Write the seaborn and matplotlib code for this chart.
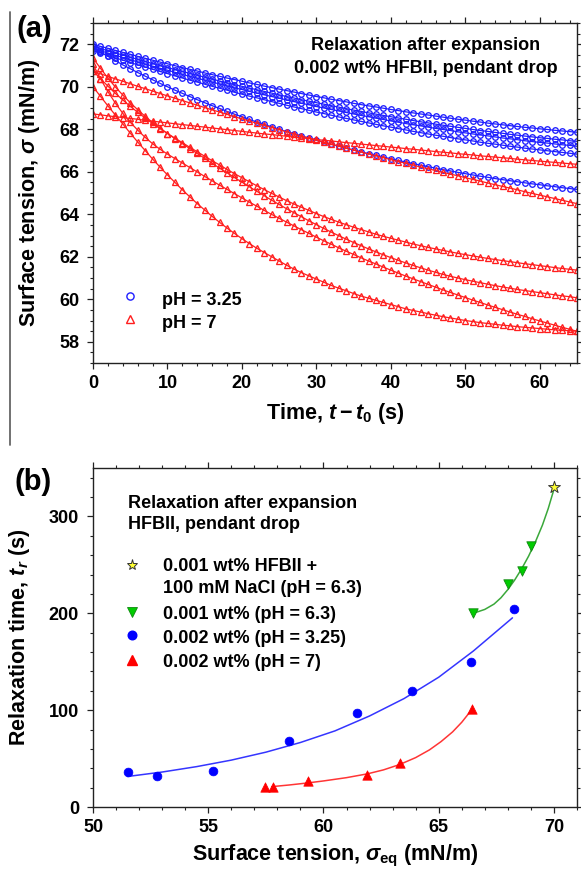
import numpy as np
import matplotlib
matplotlib.use("Agg")
import matplotlib.pyplot as plt
import seaborn as sns
from matplotlib.ticker import MultipleLocator
from matplotlib.lines import Line2D

# ---------------- data: panel (a), surface tension vs time (1 s sampling) ----------------
time_s = np.arange(0, 66)

ph325_run1 = [72.00, 71.90, 71.81, 71.71, 71.62, 71.53, 71.43, 71.34, 71.25, 71.16, 71.08, 70.99, 70.90, 70.82, 70.74, 70.65,
              70.57, 70.49, 70.41, 70.34, 70.26, 70.18, 70.11, 70.03, 69.96, 69.89, 69.82, 69.75, 69.68, 69.61, 69.54, 69.48,
              69.41, 69.35, 69.29, 69.22, 69.16, 69.10, 69.05, 68.99, 68.93, 68.88, 68.82, 68.77, 68.72, 68.67, 68.62, 68.57,
              68.52, 68.47, 68.43, 68.38, 68.34, 68.29, 68.25, 68.21, 68.17, 68.13, 68.09, 68.06, 68.02, 67.99, 67.95, 67.92,
              67.89, 67.86]
ph325_run2 = [71.90, 71.80, 71.69, 71.59, 71.49, 71.39, 71.29, 71.19, 71.09, 71.00, 70.90, 70.81, 70.72, 70.63, 70.54, 70.45,
              70.36, 70.27, 70.19, 70.10, 70.02, 69.94, 69.86, 69.78, 69.70, 69.62, 69.54, 69.47, 69.39, 69.32, 69.25, 69.18,
              69.11, 69.04, 68.97, 68.90, 68.84, 68.77, 68.71, 68.65, 68.59, 68.53, 68.47, 68.41, 68.35, 68.30, 68.24, 68.19,
              68.14, 68.09, 68.04, 67.99, 67.94, 67.90, 67.85, 67.81, 67.76, 67.72, 67.68, 67.64, 67.60, 67.57, 67.53, 67.50,
              67.46, 67.43]
ph325_run3 = [71.80, 71.69, 71.59, 71.48, 71.38, 71.27, 71.17, 71.07, 70.97, 70.87, 70.78, 70.68, 70.58, 70.49, 70.40, 70.31,
              70.22, 70.13, 70.04, 69.95, 69.87, 69.78, 69.70, 69.62, 69.54, 69.46, 69.38, 69.30, 69.22, 69.15, 69.07, 69.00,
              68.93, 68.86, 68.79, 68.72, 68.65, 68.59, 68.52, 68.46, 68.39, 68.33, 68.27, 68.21, 68.16, 68.10, 68.04, 67.99,
              67.94, 67.88, 67.83, 67.78, 67.73, 67.69, 67.64, 67.59, 67.55, 67.51, 67.46, 67.42, 67.38, 67.35, 67.31, 67.27,
              67.24, 67.20]
ph325_run4 = [71.70, 71.59, 71.47, 71.36, 71.25, 71.14, 71.03, 70.93, 70.82, 70.72, 70.62, 70.51, 70.41, 70.31, 70.22, 70.12,
              70.02, 69.93, 69.84, 69.74, 69.65, 69.56, 69.48, 69.39, 69.30, 69.22, 69.13, 69.05, 68.97, 68.89, 68.81, 68.74,
              68.66, 68.58, 68.51, 68.44, 68.37, 68.30, 68.23, 68.16, 68.10, 68.03, 67.97, 67.90, 67.84, 67.78, 67.72, 67.67,
              67.61, 67.55, 67.50, 67.45, 67.39, 67.34, 67.30, 67.25, 67.20, 67.16, 67.11, 67.07, 67.03, 66.99, 66.95, 66.91,
              66.87, 66.83]
ph325_run5 = [71.85, 71.63, 71.43, 71.23, 71.03, 70.85, 70.67, 70.50, 70.33, 70.16, 70.00, 69.84, 69.69, 69.54, 69.39, 69.25,
              69.11, 68.98, 68.84, 68.71, 68.59, 68.46, 68.34, 68.23, 68.11, 68.00, 67.89, 67.79, 67.68, 67.58, 67.48, 67.38,
              67.29, 67.20, 67.11, 67.02, 66.93, 66.85, 66.77, 66.69, 66.61, 66.53, 66.46, 66.38, 66.31, 66.24, 66.17, 66.10,
              66.04, 65.97, 65.91, 65.85, 65.79, 65.74, 65.68, 65.63, 65.58, 65.53, 65.48, 65.43, 65.39, 65.34, 65.30, 65.25,
              65.21, 65.17]

ph7_run1 = [68.72, 68.68, 68.63, 68.59, 68.55, 68.51, 68.47, 68.42, 68.38, 68.34, 68.30, 68.26, 68.22, 68.18, 68.14, 68.10,
            68.06, 68.02, 67.98, 67.94, 67.90, 67.86, 67.82, 67.78, 67.75, 67.71, 67.67, 67.63, 67.59, 67.56, 67.52, 67.48,
            67.45, 67.41, 67.37, 67.34, 67.30, 67.27, 67.23, 67.20, 67.16, 67.13, 67.09, 67.06, 67.02, 66.99, 66.95, 66.92,
            66.89, 66.85, 66.82, 66.79, 66.75, 66.72, 66.69, 66.66, 66.63, 66.59, 66.56, 66.53, 66.50, 66.47, 66.44, 66.41,
            66.38, 66.35]
ph7_run2 = [70.73, 70.61, 70.49, 70.37, 70.26, 70.14, 70.02, 69.91, 69.80, 69.68, 69.57, 69.46, 69.35, 69.24, 69.13, 69.02,
            68.91, 68.81, 68.70, 68.59, 68.49, 68.39, 68.28, 68.18, 68.08, 67.98, 67.88, 67.78, 67.68, 67.59, 67.49, 67.39,
            67.30, 67.21, 67.11, 67.02, 66.93, 66.84, 66.75, 66.66, 66.57, 66.48, 66.40, 66.31, 66.22, 66.14, 66.06, 65.97,
            65.89, 65.81, 65.72, 65.64, 65.56, 65.47, 65.39, 65.31, 65.23, 65.15, 65.06, 64.98, 64.90, 64.82, 64.74, 64.66,
            64.58, 64.50]
ph7_run3 = [70.75, 70.38, 70.03, 69.69, 69.38, 69.08, 68.80, 68.53, 68.27, 68.03, 67.80, 67.58, 67.37, 67.15, 66.94, 66.73,
            66.52, 66.32, 66.11, 65.91, 65.72, 65.53, 65.34, 65.16, 64.98, 64.81, 64.64, 64.48, 64.33, 64.18, 64.03, 63.89,
            63.76, 63.63, 63.51, 63.39, 63.28, 63.17, 63.06, 62.96, 62.87, 62.78, 62.69, 62.60, 62.52, 62.44, 62.37, 62.30,
            62.23, 62.16, 62.10, 62.04, 61.98, 61.92, 61.87, 61.82, 61.77, 61.72, 61.67, 61.63, 61.58, 61.54, 61.49, 61.45,
            61.41, 61.37]
ph7_run4 = [71.35, 70.87, 70.41, 69.99, 69.61, 69.25, 68.92, 68.61, 68.32, 68.05, 67.80, 67.56, 67.32, 67.09, 66.86, 66.63,
            66.40, 66.17, 65.95, 65.73, 65.51, 65.29, 65.08, 64.87, 64.66, 64.46, 64.26, 64.07, 63.88, 63.69, 63.51, 63.33,
            63.16, 62.99, 62.83, 62.67, 62.52, 62.37, 62.23, 62.09, 61.96, 61.83, 61.71, 61.59, 61.48, 61.37, 61.27, 61.17,
            61.08, 61.00, 60.92, 60.85, 60.78, 60.71, 60.64, 60.58, 60.52, 60.46, 60.41, 60.36, 60.31, 60.26, 60.21, 60.16,
            60.12, 60.07]
ph7_run5 = [71.05, 70.38, 69.77, 69.23, 68.75, 68.33, 67.96, 67.62, 67.32, 67.06, 66.83, 66.62, 66.41, 66.20, 65.99, 65.78,
            65.57, 65.37, 65.17, 64.97, 64.77, 64.57, 64.38, 64.18, 63.99, 63.81, 63.63, 63.45, 63.27, 63.10, 62.92, 62.75,
            62.59, 62.42, 62.26, 62.11, 61.95, 61.80, 61.66, 61.51, 61.37, 61.23, 61.09, 60.96, 60.83, 60.70, 60.57, 60.44,
            60.32, 60.20, 60.08, 59.96, 59.85, 59.73, 59.62, 59.51, 59.40, 59.29, 59.19, 59.08, 58.98, 58.88, 58.78, 58.68,
            58.59, 58.49]
ph7_run6 = [70.00, 69.55, 69.10, 68.67, 68.25, 67.82, 67.40, 67.00, 66.60, 66.22, 65.85, 65.50, 65.15, 64.82, 64.50, 64.20,
            63.90, 63.62, 63.35, 63.10, 62.85, 62.62, 62.40, 62.20, 62.00, 61.80, 61.60, 61.42, 61.25, 61.10, 60.95, 60.80,
            60.65, 60.52, 60.40, 60.27, 60.15, 60.05, 59.95, 59.85, 59.75, 59.65, 59.55, 59.47, 59.40, 59.32, 59.25, 59.18,
            59.12, 59.06, 59.00, 58.95, 58.90, 58.86, 58.82, 58.78, 58.75, 58.71, 58.68, 58.65, 58.62, 58.59, 58.56, 58.54,
            58.52, 58.50]

ph325_runs = [ph325_run1, ph325_run2, ph325_run3, ph325_run4, ph325_run5]
ph7_runs = [ph7_run1, ph7_run2, ph7_run3, ph7_run4, ph7_run5, ph7_run6]

# ---------------- data: panel (b), relaxation time vs equilibrium tension ----------------
salt_sigma = [70.0]
salt_tr = [330]

c001_sigma = [66.5, 68.0, 68.6, 69.0]
c001_tr = [200, 230, 244, 269]

c002_ph325_sigma = [51.5, 52.76, 55.19, 58.52, 61.44, 63.85, 66.39, 68.26]
c002_ph325_tr = [36, 32, 37, 68, 97, 120, 150, 204]

c002_ph7_sigma = [57.45, 57.8, 59.35, 61.9, 63.3, 66.45]
c002_ph7_tr = [21, 21, 27, 33, 45, 101]

# fitted trend lines
fit_c001_sigma = [66.5, 67.0, 67.4, 67.7, 68.0, 68.3, 68.6, 68.9, 69.2, 69.5, 69.75, 70.0]
fit_c001_tr = [200, 204, 209.5, 216, 224.5, 234.5, 246, 259, 274, 291, 308, 328]

fit_ph325_sigma = [51.5, 53.0, 54.5, 56.0, 57.5, 59.0, 60.5, 62.0, 63.5, 65.0, 66.5, 68.2]
fit_ph325_tr = [31.5, 36.1, 41.7, 48.4, 56.6, 66.6, 78.6, 94.0, 112.0, 134.0, 161.0, 195.3]

fit_ph7_sigma = [57.75, 58.5, 59.3, 60.0, 61.0, 61.9, 62.6, 63.3, 64.0, 64.6, 65.1, 65.6, 66.0, 66.45]
fit_ph7_tr = [21.0, 22.7, 24.8, 26.9, 30.3, 34.2, 38.3, 43.8, 51.0, 59.0, 67.5, 77.5, 87.5, 101.0]

# ---------------- styling ----------------
sns.set_theme(style="ticks")
plt.rcParams.update({
    "font.family": ["Liberation Sans", "DejaVu Sans"],
    "font.weight": "bold",
    "axes.labelweight": "bold",
    "text.color": "black",
    "axes.labelcolor": "black",
    "mathtext.fontset": "custom",
    "mathtext.rm": "Liberation Sans:bold",
    "mathtext.it": "Liberation Sans:italic:bold",
    "mathtext.bf": "Liberation Sans:bold",
    "axes.edgecolor": "#222222",
    "xtick.color": "#222222",
    "ytick.color": "#222222",
    "xtick.labelcolor": "black",
    "ytick.labelcolor": "black",
})

BLUE_A = "#1e1eff"
RED_A = "#ff1e1e"

W, H = 581, 872
fig = plt.figure(figsize=(W / 100, H / 100), dpi=100)
ax_a = fig.add_axes([93 / W, 1 - 363 / H, 484 / W, 340 / H])
ax_b = fig.add_axes([93 / W, 1 - 807 / H, 484 / W, 339 / H])


def style_axes(ax):
    for sp in ax.spines.values():
        sp.set_visible(True)
        sp.set_linewidth(1.0)
        sp.set_color("#222222")
    ax.tick_params(which="both", direction="out", top=True, right=True,
                   labeltop=False, labelright=False, labelsize=13)
    ax.tick_params(which="major", length=4.5, width=0.9)
    ax.tick_params(which="minor", length=2.5, width=0.8)
    ax.tick_params(axis="x", which="both", pad=4)
    ax.tick_params(axis="y", which="both", pad=5.5)


# ---------------- panel (a) ----------------
for run in ph325_runs:
    sns.lineplot(x=time_s, y=run, ax=ax_a, color=BLUE_A, linewidth=0.9,
                 marker="o", markersize=4.0, markerfacecolor="none",
                 markeredgecolor=BLUE_A, markeredgewidth=0.95, legend=False)
for run in ph7_runs:
    sns.lineplot(x=time_s, y=run, ax=ax_a, color=RED_A, linewidth=0.9,
                 marker="^", markersize=4.2, markerfacecolor="none",
                 markeredgecolor=RED_A, markeredgewidth=0.95, legend=False)

ax_a.set_xlim(0, 65)
ax_a.set_ylim(57, 73)
ax_a.xaxis.set_major_locator(MultipleLocator(10))
ax_a.xaxis.set_minor_locator(MultipleLocator(2))
ax_a.yaxis.set_major_locator(MultipleLocator(2))
ax_a.yaxis.set_minor_locator(MultipleLocator(0.5))
style_axes(ax_a)
ax_a.set_xlabel(r"Time, $t-t_0$ (s)", fontsize=15.5)
ax_a.set_ylabel(r"Surface tension, $\sigma$ (mN/m)", fontsize=15.5)
ax_a.xaxis.set_label_coords(0.5, -0.112)
ax_a.yaxis.set_label_coords(-0.105, 0.5)

ax_a.text(0.688, 0.9206, "Relaxation after expansion", transform=ax_a.transAxes,
          ha="center", va="baseline", fontsize=13)
ax_a.text(0.688, 0.853, "0.002 wt% HFBII, pendant drop", transform=ax_a.transAxes,
          ha="center", va="baseline", fontsize=13)

# key for panel (a)
ax_a.plot([0.0764], [0.197], transform=ax_a.transAxes, marker="o", ls="none",
          markersize=5.2, mfc="none", mec=BLUE_A, mew=1.0)
ax_a.plot([0.0764], [0.129], transform=ax_a.transAxes, marker="^", ls="none",
          markersize=5.4, mfc="none", mec=RED_A, mew=1.0)
ax_a.text(0.1426, 0.1706, "pH = 3.25", transform=ax_a.transAxes, va="baseline", fontsize=13)
ax_a.text(0.1426, 0.103, "pH = 7", transform=ax_a.transAxes, va="baseline", fontsize=13)

# ---------------- panel (b) ----------------
sns.lineplot(x=fit_c001_sigma, y=fit_c001_tr, ax=ax_b, color="#3aa83a", linewidth=1.1, sort=False)
sns.lineplot(x=fit_ph325_sigma, y=fit_ph325_tr, ax=ax_b, color="#3535ff", linewidth=1.1, sort=False)
sns.lineplot(x=fit_ph7_sigma, y=fit_ph7_tr, ax=ax_b, color="#ff3535", linewidth=1.1, sort=False)

sns.scatterplot(x=c002_ph325_sigma, y=c002_ph325_tr, ax=ax_b, marker="o", s=40,
                color="#0000ff", edgecolor="#0000ff", linewidth=0.5, zorder=3)
sns.scatterplot(x=c002_ph7_sigma, y=c002_ph7_tr, ax=ax_b, marker="^", s=46,
                color="#ff0000", edgecolor="#ff0000", linewidth=0.5, zorder=3)
sns.scatterplot(x=c001_sigma, y=c001_tr, ax=ax_b, marker="v", s=46,
                color="#00cc00", edgecolor="#118811", linewidth=0.6, zorder=3)
sns.scatterplot(x=salt_sigma, y=salt_tr, ax=ax_b, marker="*", s=80,
                color="#ffff33", edgecolor="#333333", linewidth=0.7, zorder=3)

ax_b.set_xlim(50, 71)
ax_b.set_ylim(0, 350)
ax_b.xaxis.set_major_locator(MultipleLocator(5))
ax_b.xaxis.set_minor_locator(MultipleLocator(1))
ax_b.yaxis.set_major_locator(MultipleLocator(100))
ax_b.yaxis.set_minor_locator(MultipleLocator(20))
style_axes(ax_b)
ax_b.set_xlabel(r"Surface tension, $\sigma_\mathrm{eq}$ (mN/m)", fontsize=15.5)
ax_b.set_ylabel(r"Relaxation time, $t_r$ (s)", fontsize=15.5)
ax_b.xaxis.set_label_coords(0.5, -0.106)
ax_b.yaxis.set_label_coords(-0.127, 0.5)

ax_b.text(0.0729, 0.882, "Relaxation after expansion", transform=ax_b.transAxes,
          va="baseline", fontsize=13)
ax_b.text(0.0729, 0.819, "HFBII, pendant drop", transform=ax_b.transAxes,
          va="baseline", fontsize=13)

key_x, txt_x = 0.080, 0.1452
ax_b.plot([key_x], [0.7139], transform=ax_b.transAxes, marker="*", ls="none",
          markersize=8, mfc="#ffff33", mec="#333333", mew=0.7)
ax_b.plot([key_x], [0.576], transform=ax_b.transAxes, marker="v", ls="none",
          markersize=6.5, mfc="#00cc00", mec="#118811", mew=0.6)
ax_b.plot([key_x], [0.507], transform=ax_b.transAxes, marker="o", ls="none",
          markersize=6.2, mfc="#0000ff", mec="#0000ff")
ax_b.plot([key_x], [0.434], transform=ax_b.transAxes, marker="^", ls="none",
          markersize=6.5, mfc="#ff0000", mec="#ff0000")
ax_b.text(txt_x, 0.696, "0.001 wt% HFBII +", transform=ax_b.transAxes, va="baseline", fontsize=13)
ax_b.text(txt_x, 0.632, "100 mM NaCl (pH = 6.3)", transform=ax_b.transAxes, va="baseline", fontsize=13)
ax_b.text(txt_x, 0.554, "0.001 wt% (pH = 6.3)", transform=ax_b.transAxes, va="baseline", fontsize=13)
ax_b.text(txt_x, 0.483, "0.002 wt% (pH = 3.25)", transform=ax_b.transAxes, va="baseline", fontsize=13)
ax_b.text(txt_x, 0.414, "0.002 wt% (pH = 7)", transform=ax_b.transAxes, va="baseline", fontsize=13)

# panel letters and left frame rule
fig.text(16 / W, 1 - 37 / H, "(a)", fontsize=21, fontweight="bold", va="baseline")
fig.text(15 / W, 1 - 490 / H, "(b)", fontsize=21, fontweight="bold", va="baseline")
fig.add_artist(Line2D([10 / W, 10 / W], [1 - 12 / H, 1 - 445 / H], color="#666666", linewidth=1.3))

fig.savefig("out.png", dpi=100)
